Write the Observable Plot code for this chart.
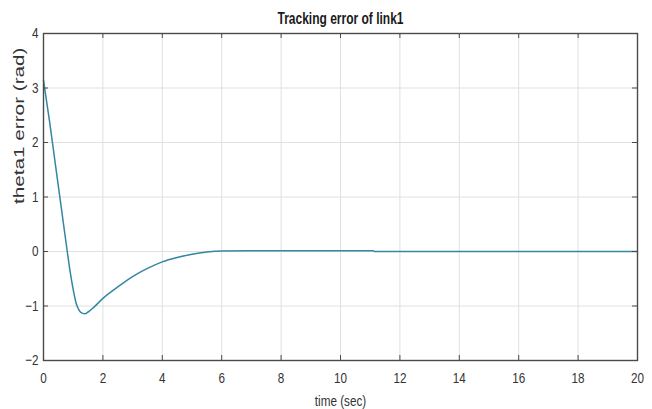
<!DOCTYPE html>
<html>
<head>
<meta charset="utf-8">
<script src="https://cdn.jsdelivr.net/npm/d3@7"></script>
<script src="https://cdn.jsdelivr.net/npm/@observablehq/plot@0.6"></script>
<style>
  html, body { margin: 0; padding: 0; background: #fff; }
  svg { display: block; }
</style>
</head>
<body>
<div id="chart"></div>
<script>
const title = "Tracking error of link1";
const xLabel = "time (sec)";
const yLabel = "theta1 error (rad)";
const xDomain = [0, 20];
const yDomain = [-2, 4];
const xTicks = [0, 2, 4, 6, 8, 10, 12, 14, 16, 18, 20];
const yTicks = [-2, -1, 0, 1, 2, 3, 4];
const time = [0, 0.2, 0.4, 0.6, 0.8, 0.9, 1.0, 1.1, 1.2, 1.3, 1.4, 1.5, 1.7, 2.0, 2.5, 3.0, 3.5, 4.0, 4.5, 5.0, 5.5, 6.0, 7.0, 11.1, 11.15, 20];
const error = [3.14, 2.4, 1.6, 0.8, 0.0, -0.38, -0.7, -0.95, -1.08, -1.13, -1.14, -1.11, -1.02, -0.86, -0.65, -0.46, -0.31, -0.19, -0.11, -0.05, -0.01, 0.01, 0.015, 0.015, 0, 0];

const data = time.map((t, i) => ({t, e: error[i]}));
const sans = '"Liberation Sans", Arial, sans-serif';
const axisColor = "#4a4a4a";

const chart = Plot.plot({
  width: 652,
  height: 409,
  marginLeft: 43,
  marginRight: 15,
  marginTop: 33,
  marginBottom: 49,
  style: {fontFamily: sans, fontSize: "15px", color: "#333", background: "#fff"},
  x: {domain: xDomain, ticks: xTicks, label: null},
  y: {domain: yDomain, ticks: yTicks, label: null},
  marks: [
    Plot.gridX(xTicks, {stroke: "#e0e0e0", strokeOpacity: 1}),
    Plot.gridY(yTicks, {stroke: "#e0e0e0", strokeOpacity: 1}),
    Plot.line(data, {x: "t", y: "e", stroke: "#3486a3", strokeWidth: 1.5, curve: "monotone-x"}),
    Plot.frame({stroke: axisColor, strokeWidth: 1.4}),
    // inward tick marks on all four sides
    Plot.ruleX(xTicks, {x: d => d, y1: yDomain[0], y2: yDomain[0], insetBottom: 5, stroke: axisColor}),
    Plot.ruleX(xTicks, {x: d => d, y1: yDomain[1], y2: yDomain[1], insetTop: 5, stroke: axisColor}),
    Plot.ruleY(yTicks, {y: d => d, x1: xDomain[0], x2: xDomain[0], insetLeft: 5, stroke: axisColor}),
    Plot.ruleY(yTicks, {y: d => d, x1: xDomain[1], x2: xDomain[1], insetRight: 5, stroke: axisColor}),
    Plot.axisX(xTicks, {anchor: "bottom", tickSize: 0, tickPadding: 12, tickFormat: "d", label: null, fill: "#333"}),
    Plot.axisY(yTicks, {anchor: "left", tickSize: 0, tickPadding: 5, tickFormat: "d", label: null, fill: "#333"}),
    Plot.text([title], {frameAnchor: "top", lineAnchor: "top", dy: -21, text: d => d, fontWeight: "bold", fontSize: 16, fill: "#1a1a1a"}),
    Plot.text([xLabel], {frameAnchor: "bottom", lineAnchor: "top", dy: 35, text: d => d, fontSize: 15, fill: "#333"}),
    Plot.text([yLabel], {frameAnchor: "left", dx: -24, dy: 7, rotate: -90, text: d => d, fontSize: 15, fill: "#333"})
  ]
});
document.getElementById("chart").appendChild(chart);

// The reference image is stretched vertically: horizontal text looks narrow, vertical text looks long.
function reshape(el, factor) {
  const len = el.getComputedTextLength();
  el.setAttribute("textLength", (len * factor).toFixed(1));
  el.setAttribute("lengthAdjust", "spacingAndGlyphs");
}
d3.select(chart).selectAll("text").each(function () {
  const s = this.textContent;
  if (s === yLabel) reshape(this, 1.38);
  else if (s === title) reshape(this, 0.75);
  else reshape(this, 0.78);
});
</script>
</body>
</html>
